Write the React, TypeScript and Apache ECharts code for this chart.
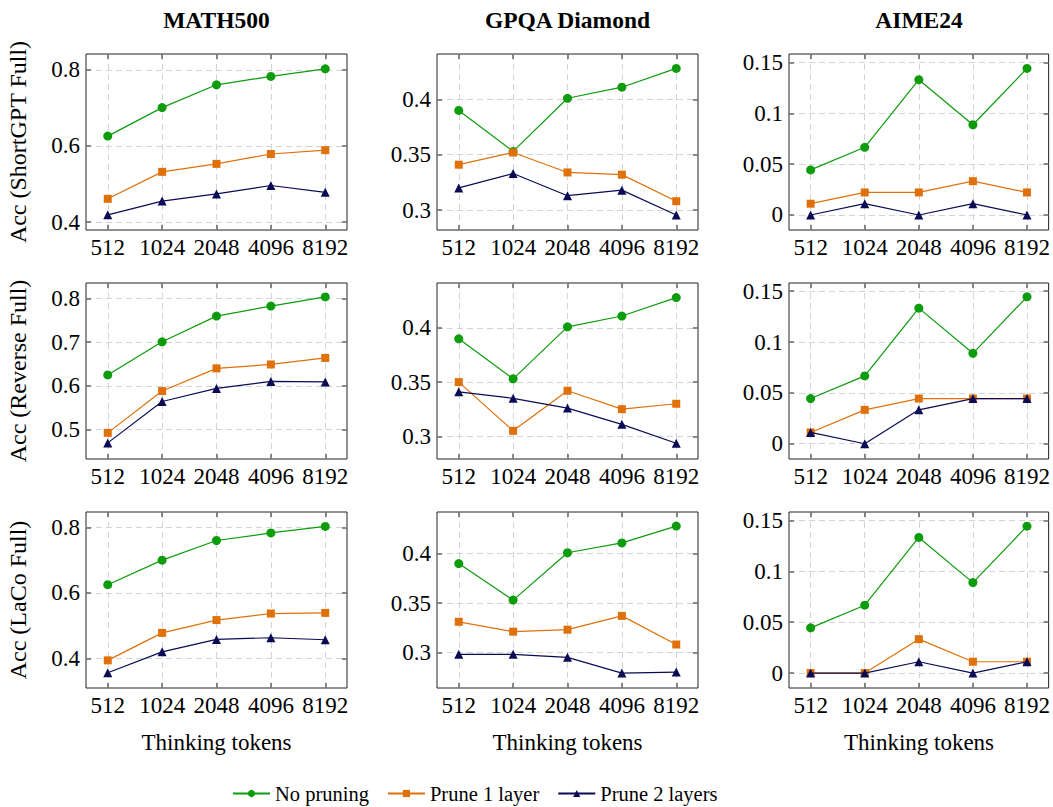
import React, { useEffect, useRef } from "react";
import * as echarts from "echarts";

const TOKENS = ["512", "1024", "2048", "4096", "8192"];
const DATASETS = ["MATH500", "GPQA Diamond", "AIME24"];
const METHODS = ["Acc (ShortGPT Full)", "Acc (Reverse Full)", "Acc (LaCo Full)"];
const SERIES_NAMES = ["No pruning", "Prune 1 layer", "Prune 2 layers"];

// Row 1: ShortGPT Full
const shortMathNo = [0.626, 0.701, 0.761, 0.783, 0.803];
const shortMathP1 = [0.461, 0.532, 0.553, 0.579, 0.589];
const shortMathP2 = [0.419, 0.455, 0.474, 0.496, 0.478];
const shortGpqaNo = [0.39, 0.353, 0.401, 0.411, 0.428];
const shortGpqaP1 = [0.341, 0.352, 0.334, 0.332, 0.308];
const shortGpqaP2 = [0.32, 0.333, 0.313, 0.318, 0.2955];
const shortAimeNo = [0.0444, 0.0667, 0.1333, 0.0889, 0.1444];
const shortAimeP1 = [0.0111, 0.0222, 0.0222, 0.0333, 0.0222];
const shortAimeP2 = [0, 0.0111, 0, 0.0111, 0];

// Row 2: Reverse Full
const revMathNo = [0.625, 0.701, 0.76, 0.783, 0.804];
const revMathP1 = [0.492, 0.588, 0.64, 0.649, 0.664];
const revMathP2 = [0.469, 0.564, 0.594, 0.61, 0.609];
const revGpqaNo = [0.39, 0.353, 0.401, 0.411, 0.428];
const revGpqaP1 = [0.35, 0.305, 0.342, 0.325, 0.33];
const revGpqaP2 = [0.341, 0.335, 0.326, 0.311, 0.2935];
const revAimeNo = [0.0444, 0.0667, 0.1333, 0.0889, 0.1444];
const revAimeP1 = [0.0111, 0.0333, 0.0444, 0.0444, 0.0444];
const revAimeP2 = [0.0111, 0, 0.0333, 0.0444, 0.0444];

// Row 3: LaCo Full
const lacoMathNo = [0.625, 0.7, 0.76, 0.783, 0.803];
const lacoMathP1 = [0.394, 0.478, 0.517, 0.537, 0.539];
const lacoMathP2 = [0.356, 0.42, 0.458, 0.463, 0.457];
const lacoGpqaNo = [0.39, 0.353, 0.401, 0.411, 0.428];
const lacoGpqaP1 = [0.331, 0.321, 0.323, 0.337, 0.308];
const lacoGpqaP2 = [0.298, 0.298, 0.295, 0.279, 0.28];
const lacoAimeNo = [0.0444, 0.0667, 0.1333, 0.0889, 0.1444];
const lacoAimeP1 = [0, 0, 0.0333, 0.0111, 0.0111];
const lacoAimeP2 = [0, 0, 0.0111, 0, 0.0111];

const PANEL_DATA = [
  [
    [shortMathNo, shortMathP1, shortMathP2],
    [shortGpqaNo, shortGpqaP1, shortGpqaP2],
    [shortAimeNo, shortAimeP1, shortAimeP2],
  ],
  [
    [revMathNo, revMathP1, revMathP2],
    [revGpqaNo, revGpqaP1, revGpqaP2],
    [revAimeNo, revAimeP1, revAimeP2],
  ],
  [
    [lacoMathNo, lacoMathP1, lacoMathP2],
    [lacoGpqaNo, lacoGpqaP1, lacoGpqaP2],
    [lacoAimeNo, lacoAimeP1, lacoAimeP2],
  ],
];

// y ranges and tick values per panel
const Y_RANGES = [
  [[0.379, 0.842], [0.282, 0.441], [-0.0148, 0.1586]],
  [[0.432, 0.836], [0.279, 0.4415], [-0.015, 0.158]],
  [[0.3096, 0.847], [0.2639, 0.4423], [-0.0147, 0.1583]],
];
const Y_TICKS = [
  [[0.4, 0.6, 0.8], [0.3, 0.35, 0.4], [0, 0.05, 0.1, 0.15]],
  [[0.5, 0.6, 0.7, 0.8], [0.3, 0.35, 0.4], [0, 0.05, 0.1, 0.15]],
  [[0.4, 0.6, 0.8], [0.3, 0.35, 0.4], [0, 0.05, 0.1, 0.15]],
];

const COLORS = ["#0c9c0c", "#e0700a", "#0b0b55"];
const SYMBOLS = ["circle", "rect", "triangle"];
const SYMBOL_SIZES = [9, 8, 9];

const COL_LEFT = [86, 437, 789];
const COL_WIDTH = [261, 261, 260];
const ROW_TOP = [54, 283, 512];
const ROW_HEIGHT = 176;

const FONT = "'Liberation Serif', 'Times New Roman', serif";

export default function App() {
  const ref = useRef<HTMLDivElement>(null);
  useEffect(() => {
    document.body.style.margin = "0";
    if (!ref.current) return;
    const chart = echarts.init(ref.current, null, { renderer: "svg" });

    const grids: any[] = [];
    const xAxes: any[] = [];
    const yAxes: any[] = [];
    const series: any[] = [];
    const graphics: any[] = [];
    const xTicks = [0, 1, 2, 3, 4];

    for (let r = 0; r < 3; r++) {
      for (let c = 0; c < 3; c++) {
        const gi = r * 3 + c;
        grids.push({
          left: COL_LEFT[c],
          top: ROW_TOP[r],
          width: COL_WIDTH[c],
          height: ROW_HEIGHT,
          show: true,
          borderColor: "#222",
          borderWidth: 1,
          backgroundColor: "transparent",
        });
        const tickStyle = {
          show: true,
          inside: true,
          length: 5,
          lineStyle: { color: "#666", width: 1.5 },
        };
        const labelStyle = {
          color: "#000",
          fontFamily: FONT,
          fontSize: 23,
          margin: 6,
        };
        // bottom x
        xAxes.push({
          type: "value",
          gridIndex: gi,
          position: "bottom",
          min: -0.4,
          max: 4.4,
          axisLine: { show: false, onZero: false },
          axisTick: { ...tickStyle, customValues: xTicks },
          axisLabel: {
            ...labelStyle,
            customValues: xTicks,
            formatter: (v: number) => TOKENS[Math.round(v)] ?? "",
          },
          splitLine: {
            show: true,
            lineStyle: { color: "#d4d4d4", type: [6, 4], width: 1 },
          },
        });
        // top x (mirror ticks)
        xAxes.push({
          type: "value",
          gridIndex: gi,
          position: "top",
          min: -0.4,
          max: 4.4,
          axisLine: { show: false, onZero: false },
          axisTick: { ...tickStyle, customValues: xTicks },
          axisLabel: { show: false, customValues: xTicks },
          splitLine: { show: false },
        });
        const [ymin, ymax] = Y_RANGES[r][c];
        const yt = Y_TICKS[r][c];
        yAxes.push({
          type: "value",
          gridIndex: gi,
          position: "left",
          min: ymin,
          max: ymax,
          axisLine: { show: false, onZero: false },
          axisTick: { ...tickStyle, customValues: yt },
          axisLabel: {
            ...labelStyle,
            customValues: yt,
            formatter: (v: number) => String(parseFloat(v.toFixed(3))),
          },
          splitLine: {
            show: true,
            lineStyle: { color: "#d4d4d4", type: [6, 4], width: 1 },
          },
        });
        yAxes.push({
          type: "value",
          gridIndex: gi,
          position: "right",
          min: ymin,
          max: ymax,
          axisLine: { show: false, onZero: false },
          axisTick: { ...tickStyle, customValues: yt },
          axisLabel: { show: false, customValues: yt },
          splitLine: { show: false },
        });
        const vals = PANEL_DATA[r][c];
        for (let s = 0; s < 3; s++) {
          series.push({
            type: "line",
            name: SERIES_NAMES[s],
            xAxisIndex: gi * 2,
            yAxisIndex: gi * 2,
            data: vals[s].map((v, i) => [i, v]),
            symbol: SYMBOLS[s],
            symbolSize: SYMBOL_SIZES[s],
            showSymbol: true,
            lineStyle: { color: COLORS[s], width: 1.2 },
            itemStyle: { color: COLORS[s] },
            z: 2 + s,
          });
        }
      }
    }

    // Column titles and x-axis names
    for (let c = 0; c < 3; c++) {
      graphics.push({
        type: "text",
        x: COL_LEFT[c] + COL_WIDTH[c] / 2,
        y: 20,
        style: {
          text: DATASETS[c],
          fontFamily: FONT,
          fontSize: 23.5,
          fontWeight: "bold",
          fill: "#000",
          align: "center",
          verticalAlign: "middle",
        },
      });
      graphics.push({
        type: "text",
        x: COL_LEFT[c] + COL_WIDTH[c] / 2,
        y: 742,
        style: {
          text: "Thinking tokens",
          fontFamily: FONT,
          fontSize: 23,
          fill: "#000",
          align: "center",
          verticalAlign: "middle",
        },
      });
    }
    // Row y labels
    for (let r = 0; r < 3; r++) {
      graphics.push({
        type: "text",
        x: 18,
        y: ROW_TOP[r] + ROW_HEIGHT / 2,
        rotation: Math.PI / 2,
        style: {
          text: METHODS[r],
          fontFamily: FONT,
          fontSize: 24,
          fill: "#000",
          align: "center",
          verticalAlign: "middle",
        },
      });
    }

    chart.setOption({
      animation: false,
      backgroundColor: "#fff",
      grid: grids,
      xAxis: xAxes,
      yAxis: yAxes,
      series,
      graphic: graphics,
      legend: {
        data: SERIES_NAMES,
        left: 232,
        top: 783,
        padding: 0,
        itemWidth: 37,
        itemHeight: 9,
        itemGap: 18,
        textStyle: { fontFamily: FONT, fontSize: 20.5, color: "#000" },
      },
    });
    return () => chart.dispose();
  }, []);
  return <div ref={ref} style={{ width: 1053, height: 807 }} />;
}
